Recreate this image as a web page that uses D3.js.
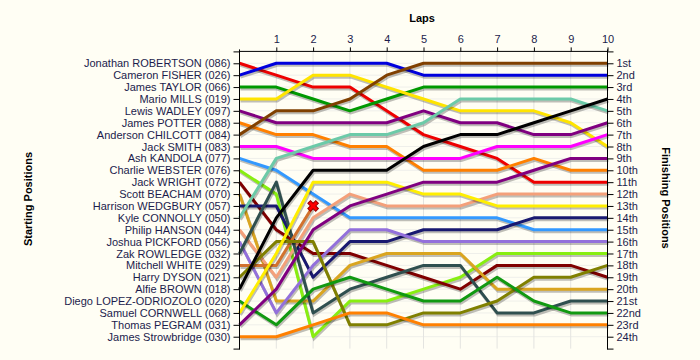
<!DOCTYPE html>
<html>
<head>
<meta charset="utf-8">
<script src="https://cdnjs.cloudflare.com/ajax/libs/d3/7.8.5/d3.min.js"></script>
<style>
    html, body { margin: 0; padding: 0; background: #fffef4; }
    svg#chart { display: block; font-family: "Liberation Sans", Arial, sans-serif; }
    .grid line { stroke: #e4e4e0; stroke-width: 1; }
    .axis path, .axis line { stroke: #000; }
    .axis text { fill: #1c1c4c; font-size: 11px; }
    .title { font-weight: bold; font-size: 11px; fill: #000; }
</style>
</head>
<body>
<svg id="chart" width="700" height="360"></svg>
<script>
// laps along the top
var laps = [0, 1, 2, 3, 4, 5, 6, 7, 8, 9, 10];

// drivers in starting order
var drivers = [
    "Jonathan ROBERTSON (086)", "Cameron FISHER (026)", "James TAYLOR (066)", "Mario MILLS (019)",
    "Lewis WADLEY (097)", "James POTTER (088)", "Anderson CHILCOTT (084)", "Jack SMITH (083)",
    "Ash KANDOLA (077)", "Charlie WEBSTER (076)", "Jack WRIGHT (072)", "Scott BEACHAM (070)",
    "Harrison WEDGBURY (057)", "Kyle CONNOLLY (050)", "Philip HANSON (044)", "Joshua PICKFORD (056)",
    "Zak ROWLEDGE (032)", "Mitchell WHITE (029)", "Harry DYSON (021)", "Alfie BROWN (018)",
    "Diego LOPEZ-ODRIOZOLO (020)", "Samuel CORNWELL (068)", "Thomas PEGRAM (031)", "James Strowbridge (030)"
];

var finishLabels = ["1st", "2nd", "3rd", "4th", "5th", "6th", "7th", "8th", "9th", "10th", "11th", "12th",
    "13th", "14th", "15th", "16th", "17th", "18th", "19th", "20th", "21st", "22nd", "23rd", "24th"];

// position of each driver at the end of every lap (lap 0 = grid)
var positions = [
    [1, 2, 3, 3, 5, 7, 8, 9, 11, 11, 11],
    [2, 1, 1, 1, 1, 2, 2, 2, 2, 2, 2],
    [3, 3, 4, 5, 4, 3, 3, 3, 3, 3, 3],
    [4, 4, 2, 2, 3, 4, 5, 5, 5, 6, 8],
    [5, 6, 6, 6, 6, 5, 6, 6, 7, 7, 6],
    [6, 7, 7, 8, 8, 10, 10, 10, 9, 10, 10],
    [7, 5, 5, 4, 2, 1, 1, 1, 1, 1, 1],
    [8, 8, 9, 9, 9, 9, 9, 8, 8, 8, 7],
    [9, 10, 12, 14, 14, 14, 14, 14, 15, 15, 15],
    [10, 12, 24, 21, 21, 20, 19, 17, 17, 17, 17],
    [11, 15, 17, 17, 18, 19, 20, 18, 18, 18, 19],
    [12, 21, 21, 18, 17, 17, 17, 20, 20, 20, 20],
    [13, 13, 19, 16, 16, 15, 15, 15, 14, 14, 14],
    [14, 9, 8, 7, 7, 6, 4, 4, 4, 4, 5],
    [15, 19, 14, 12, 13, 13, 13, 12, 12, 12, 12],
    [16, 22, 18, 15, 15, 16, 16, 16, 16, 16, 16],
    [17, 11, 22, 20, 19, 18, 18, 22, 22, 21, 21],
    [18, 18, 13],
    [19, 16, 16, 23, 23, 22, 22, 21, 19, 19, 18],
    [20, 14, 10, 10, 10, 8, 7, 7, 6, 5, 4],
    [21, 23, 20, 19, 20, 21, 21, 19, 21, 22, 22],
    [22, 17, 11, 11, 11, 12, 12, 13, 13, 13, 13],
    [23, 20, 15, 13, 12, 11, 11, 11, 10, 9, 9],
    [24, 24, 23, 22, 22, 23, 23, 23, 23, 23, 23]
];

var colours = [
    "#ee0000", "#0000dd", "#009900", "#ffe400", "#800080", "#ff8000", "#804000", "#ff00ff",
    "#3399ff", "#88ee11", "#800000", "#daa520", "#191970", "#6ccaa8", "#f4a07a", "#9370db",
    "#2f4f4f", "#d2722e", "#808000", "#000000", "#119911", "#ffee00", "#800080", "#ff8000"
];

(function () {
    var svg = d3.select("svg#chart"),
        left = 239.5, right = 607.5, plotTop = 51.4, plotBottom = 348.6;

    var x = d3.scaleLinear().domain([0, 10]).range([left, right]);
    var y = d3.scaleLinear().domain([0, 25]).range([plotTop, plotBottom]);

    var posTicks = d3.range(0, 26);

    // grid
    var grid = svg.append("g").attr("class", "grid");
    grid.selectAll("line.h")
        .data(d3.range(1, 25))
        .enter().append("line")
        .attr("class", "h")
        .attr("x1", left).attr("x2", right)
        .attr("y1", function (d) { return y(d); })
        .attr("y2", function (d) { return y(d); })
        .style("stroke", "#efefea");
    grid.selectAll("line.v")
        .data(laps.slice(1))
        .enter().append("line")
        .attr("class", "v")
        .attr("x1", function (d) { return x(d); })
        .attr("x2", function (d) { return x(d); })
        .attr("y1", plotTop).attr("y2", plotBottom);

    // lines
    var line = d3.line()
        .x(function (d, i) { return x(laps[i]); })
        .y(function (d) { return y(d); });

    var lines = svg.append("g").attr("class", "lines");
    positions.forEach(function (p, i) {
        lines.append("path")
            .attr("d", line(p))
            .attr("transform", "translate(1,2)")
            .style("fill", "none")
            .style("stroke", "#000")
            .style("stroke-opacity", 0.25)
            .style("stroke-width", 3);
        lines.append("path")
            .attr("d", line(p))
            .style("fill", "none")
            .style("stroke", colours[i])
            .style("stroke-width", 3)
            .style("stroke-linejoin", "round");
    });

    // retirement marker
    positions.forEach(function (p) {
        if (p.length < laps.length) {
            var cx = x(laps[p.length - 1]), cy = y(p[p.length - 1]);
            svg.append("path")
                .attr("transform", "translate(" + cx + "," + cy + ") rotate(45)")
                .attr("d", d3.symbol().type(d3.symbolCross).size(70)())
                .style("fill", "#ff0000")
                .style("stroke", "#990000")
                .style("stroke-width", 1);
        }
    });

    // axes
    var yLeft = d3.axisLeft(y).tickValues(posTicks).tickSize(6)
        .tickFormat(function (d) { return drivers[d - 1] || ""; });
    var yRight = d3.axisRight(y).tickValues(posTicks).tickSize(6)
        .tickFormat(function (d) { return finishLabels[d - 1] || ""; });
    var xTop = d3.axisTop(x).tickValues(laps.slice(1)).tickSize(4).tickFormat(d3.format("d"));

    svg.append("g").attr("class", "y axis")
        .attr("transform", "translate(" + left + ",0)")
        .call(yLeft)
        .call(function (g) { g.select(".domain").attr("d", "M0," + (plotTop - 2) + "V" + (plotBottom + 1)); });

    svg.append("g").attr("class", "y axis")
        .attr("transform", "translate(" + right + ",0)")
        .call(yRight)
        .call(function (g) { g.select(".domain").attr("d", "M0," + (plotTop - 2) + "V" + (plotBottom + 1)); });

    svg.append("g").attr("class", "x axis")
        .attr("transform", "translate(0," + plotTop + ")")
        .call(xTop)
        .call(function (g) { g.select(".domain").attr("d", "M" + left + ",0H" + right); })
        .selectAll("text").attr("dy", "-0.1em");

    // titles
    svg.append("text").attr("class", "title")
        .attr("x", 422).attr("y", 22)
        .attr("text-anchor", "middle")
        .text("Laps");

    svg.append("text").attr("class", "title")
        .attr("transform", "translate(32,199) rotate(-90)")
        .attr("text-anchor", "middle")
        .text("Starting Positions");

    svg.append("text").attr("class", "title")
        .attr("transform", "translate(662,198) rotate(90)")
        .attr("text-anchor", "middle")
        .text("Finishing Positions");
})();
</script>
</body>
</html>
